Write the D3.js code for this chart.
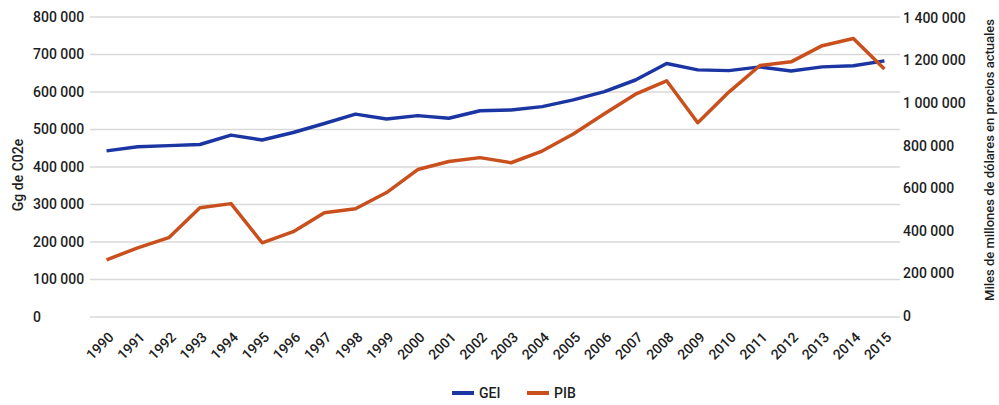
<!DOCTYPE html>
<html>
<head>
<meta charset="utf-8">
<script src="https://cdn.jsdelivr.net/npm/d3@7"></script>
<style>
  body { margin: 0; background: #fff; }
  svg text { font-family: Roboto, "Open Sans", sans-serif; fill: #1e1e1e; }
</style>
</head>
<body>
<svg id="chart" width="999" height="405"></svg>
<script>
const years = ["1990","1991","1992","1993","1994","1995","1996","1997","1998","1999","2000","2001","2002","2003","2004","2005","2006","2007","2008","2009","2010","2011","2012","2013","2014","2015"];
const gei = [443000,454000,457000,460000,485000,472000,492000,516000,541000,528000,537000,530000,550000,552000,561000,579000,601000,632000,676000,659000,657000,667000,656000,667000,670000,683000];
const pib = [264000,320000,368000,509000,528000,344000,396000,485000,504000,580000,688000,726000,744000,720000,775000,855000,950000,1042000,1105000,908000,1052000,1177000,1194000,1270000,1304000,1160000];
const leftTicks = [0,100000,200000,300000,400000,500000,600000,700000,800000];
const rightTicks = [0,200000,400000,600000,800000,1000000,1200000,1400000];
const seriesNames = ["GEI","PIB"];
const colors = ["#1b36a3","#c9501c"];

const svg = d3.select("#chart");
const fmt = d3.formatLocale({decimal: ",", thousands: " ", grouping: [3], currency: ["", ""]}).format(",d");

const x = d3.scalePoint().domain(years).range([91, 900]).padding(0.5);
const yL = d3.scaleLinear().domain([0, 800000]).range([317, 17]);
const yR = d3.scaleLinear().domain([0, 1400000]).range([316, 18]);

// gridlines
svg.append("g").selectAll("line").data(leftTicks).join("line")
  .attr("x1", 90).attr("x2", 900)
  .attr("y1", d => yL(d)).attr("y2", d => yL(d))
  .attr("stroke", "#d9d9d9").attr("stroke-width", 1.5);

// left labels
svg.append("g").selectAll("text").data(leftTicks).join("text")
  .attr("x", 33).attr("y", d => yL(d)).attr("dy", "0.35em")
  .attr("font-size", 14).attr("font-weight", 500).text(d => fmt(d));

// right labels
svg.append("g").selectAll("text").data(rightTicks).join("text")
  .attr("x", 903).attr("y", d => yR(d)).attr("dy", "0.35em")
  .attr("font-size", 14).attr("font-weight", 500).text(d => fmt(d));

// x labels
svg.append("g").selectAll("text").data(years).join("text")
  .attr("transform", d => `translate(${x(d) + 1},331) rotate(-45)`)
  .attr("text-anchor", "end").attr("dy", "0.71em")
  .attr("font-size", 14).attr("font-weight", 500).text(d => d);

// axis titles
svg.append("text").attr("transform", "translate(23,175) rotate(-90)")
  .attr("text-anchor", "middle").attr("font-size", 14).attr("font-weight", 500).text("Gg de C02e");
svg.append("text").attr("transform", "translate(994,160) rotate(-90)")
  .attr("text-anchor", "middle").attr("font-size", 13).attr("font-weight", 500).text("Miles de millones de dólares en precios actuales");

// lines
const lineL = d3.line().x((d, i) => x(years[i])).y(d => yL(d));
const lineR = d3.line().x((d, i) => x(years[i])).y(d => yR(d));
svg.append("path").datum(gei).attr("d", lineL).attr("fill", "none")
  .attr("stroke", colors[0]).attr("stroke-width", 3.5).attr("stroke-linejoin", "round");
svg.append("path").datum(pib).attr("d", lineR).attr("fill", "none")
  .attr("stroke", colors[1]).attr("stroke-width", 3.5).attr("stroke-linejoin", "round");

// legend
const legX = [452, 527];
const leg = svg.append("g").selectAll("g").data(seriesNames).join("g")
  .attr("transform", (d, i) => `translate(${legX[i]},393)`);
leg.append("line").attr("x1", 0).attr("x2", 22).attr("stroke", (d, i) => colors[i]).attr("stroke-width", 4);
leg.append("text").attr("x", 27).attr("dy", "0.35em").attr("font-size", 14).attr("font-weight", 500).text(d => d);
</script>
</body>
</html>
